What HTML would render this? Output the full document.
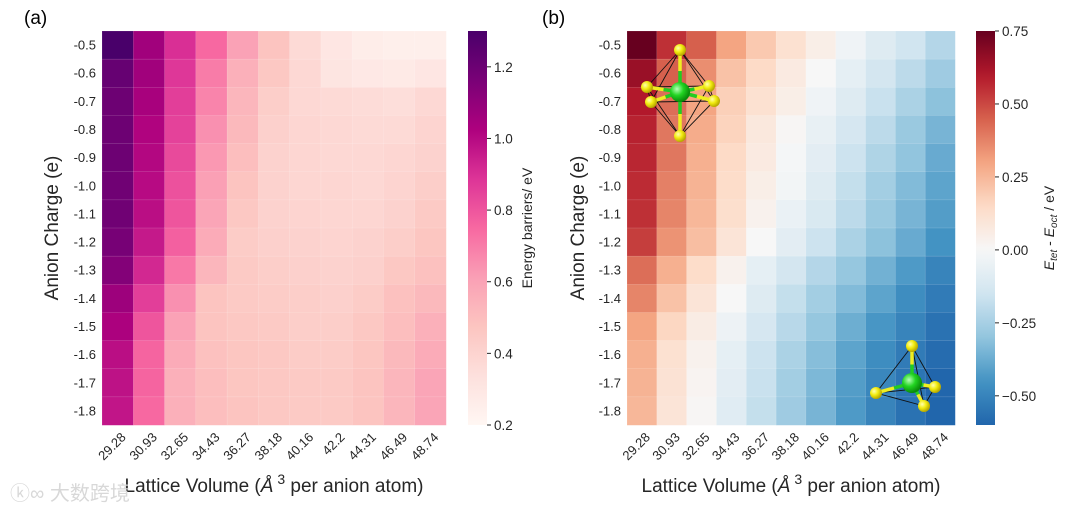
<!DOCTYPE html>
<html><head><meta charset="utf-8">
<style>
html,body{margin:0;padding:0;background:#fff;}
svg{display:block;font-family:"Liberation Sans",Arial,sans-serif;}
</style></head>
<body>
<svg id="fig" width="1080" height="515" viewBox="0 0 1080 515" xmlns="http://www.w3.org/2000/svg">
<defs>
<radialGradient id="gY" cx="35%" cy="35%" r="65%"><stop offset="0" stop-color="#ffffb0"/><stop offset="0.5" stop-color="#f2ec10"/><stop offset="1" stop-color="#b8a800"/></radialGradient>
<radialGradient id="gG" cx="35%" cy="35%" r="65%"><stop offset="0" stop-color="#b8ffb8"/><stop offset="0.5" stop-color="#22d422"/><stop offset="1" stop-color="#0a8a0a"/></radialGradient>
<linearGradient id="cbA" x1="0" y1="1" x2="0" y2="0"></linearGradient>
<linearGradient id="cbB" x1="0" y1="1" x2="0" y2="0"></linearGradient>
</defs>
<g id="panelA"></g>
<g id="panelB"></g>
<g id="mols"></g>
<text x="10" y="500" font-size="20" fill="#d8d8d8" font-family="'Liberation Sans','Noto Sans CJK SC',sans-serif">ⓚ∞ 大数跨境</text>
</svg>
<script>
const xCats = ["29.28","30.93","32.65","34.43","36.27","38.18","40.16","42.2","44.31","46.49","48.74"];
const yCats = ["-0.5","-0.6","-0.7","-0.8","-0.9","-1.0","-1.1","-1.2","-1.3","-1.4","-1.5","-1.6","-1.7","-1.8"];
const barrierValues = [
[1.30,1.06,0.90,0.75,0.60,0.48,0.37,0.30,0.26,0.25,0.25],
[1.22,1.06,0.88,0.70,0.55,0.46,0.38,0.31,0.29,0.28,0.30],
[1.20,1.04,0.86,0.68,0.53,0.43,0.38,0.37,0.36,0.35,0.38],
[1.20,1.02,0.85,0.65,0.52,0.42,0.39,0.38,0.37,0.37,0.40],
[1.20,1.01,0.83,0.63,0.50,0.41,0.39,0.38,0.38,0.39,0.41],
[1.19,1.00,0.81,0.61,0.48,0.41,0.39,0.39,0.38,0.40,0.43],
[1.19,0.99,0.80,0.59,0.46,0.41,0.40,0.39,0.39,0.41,0.45],
[1.17,0.96,0.77,0.57,0.44,0.42,0.41,0.40,0.41,0.43,0.47],
[1.14,0.92,0.71,0.53,0.45,0.43,0.42,0.41,0.42,0.46,0.49],
[1.07,0.86,0.65,0.48,0.45,0.44,0.43,0.42,0.44,0.49,0.52],
[1.03,0.80,0.60,0.48,0.46,0.45,0.43,0.43,0.46,0.50,0.55],
[0.99,0.76,0.57,0.49,0.47,0.46,0.44,0.44,0.47,0.52,0.57],
[0.98,0.76,0.55,0.50,0.47,0.46,0.45,0.45,0.48,0.53,0.59],
[0.97,0.75,0.55,0.50,0.48,0.46,0.45,0.45,0.48,0.53,0.59]];
const diffValues = [
[0.75,0.55,0.45,0.30,0.20,0.12,0.05,-0.03,-0.10,-0.15,-0.22],
[0.65,0.45,0.35,0.22,0.15,0.07,0.00,-0.07,-0.14,-0.20,-0.27],
[0.60,0.42,0.30,0.18,0.12,0.05,-0.03,-0.10,-0.17,-0.24,-0.31],
[0.58,0.40,0.28,0.17,0.08,0.01,-0.06,-0.13,-0.20,-0.28,-0.35],
[0.57,0.40,0.27,0.15,0.07,-0.01,-0.08,-0.16,-0.23,-0.30,-0.38],
[0.56,0.38,0.26,0.14,0.05,-0.02,-0.10,-0.18,-0.26,-0.33,-0.40],
[0.55,0.37,0.25,0.13,0.03,-0.05,-0.12,-0.20,-0.28,-0.35,-0.42],
[0.52,0.34,0.23,0.10,0.00,-0.08,-0.16,-0.24,-0.31,-0.38,-0.45],
[0.42,0.27,0.14,0.03,-0.07,-0.14,-0.22,-0.29,-0.36,-0.43,-0.50],
[0.37,0.22,0.10,0.00,-0.10,-0.18,-0.26,-0.33,-0.40,-0.47,-0.53],
[0.30,0.16,0.06,-0.04,-0.13,-0.21,-0.29,-0.37,-0.44,-0.50,-0.56],
[0.27,0.12,0.03,-0.07,-0.16,-0.24,-0.32,-0.40,-0.47,-0.53,-0.58],
[0.26,0.11,0.02,-0.08,-0.17,-0.26,-0.34,-0.42,-0.49,-0.55,-0.60],
[0.25,0.10,0.01,-0.09,-0.18,-0.27,-0.35,-0.43,-0.50,-0.56,-0.60]];
const ticksA = [0.2,0.4,0.6,0.8,1.0,1.2];
const tickLabelsA = ["0.2","0.4","0.6","0.8","1.0","1.2"];
const ticksB = [-0.5,-0.25,0,0.25,0.5,0.75];
const tickLabelsB = ["\u22120.50","\u22120.25","0.00","0.25","0.50","0.75"];

const NS="http://www.w3.org/2000/svg";
function mk(tag,attrs,parent,txt){const e=document.createElementNS(NS,tag);for(const k in attrs)e.setAttribute(k,attrs[k]);if(txt!==undefined)e.textContent=txt;parent.appendChild(e);return e;}
function hex(h){return [parseInt(h.slice(1,3),16),parseInt(h.slice(3,5),16),parseInt(h.slice(5,7),16)];}
function interp(stops,t){t=Math.max(0,Math.min(1,t));const n=stops.length-1;const p=t*n;const i=Math.min(n-1,Math.floor(p));const f=p-i;const a=hex(stops[i]),b=hex(stops[i+1]);return "rgb("+a.map((v,k)=>Math.round(v+(b[k]-v)*f)).join(",")+")";}
const RdPu=["#fff7f3","#fde0dd","#fcc5c0","#fa9fb5","#f768a1","#dd3497","#ae017e","#7a0177","#49006a"];
const RdBuR=["#053061","#2166ac","#4393c3","#92c5de","#d1e5f0","#f7f7f7","#fddbc7","#f4a582","#d6604d","#b2182b","#67001f"];
const vminA=0.2,vmaxA=1.3,vminB=-0.6,vmaxB=0.75;
function colA(v){return interp(RdPu,(v-vminA)/(vmaxA-vminA));}
function colB(v){return interp(RdBuR,(v+0.75)/1.5);}

function drawPanel(g,cfg){
  const nx=xCats.length,ny=yCats.length;
  const cw=(cfg.x1-cfg.x0)/nx,ch=(cfg.y1-cfg.y0)/ny;
  const xs=i=>cfg.x0+i*cw, ys=j=>cfg.y0+j*ch;
  const cells=mk('g',{},g);
  
  
  cfg.data.forEach((row,j)=>row.forEach((v,i)=>{
    const r=mk('rect',{x:xs(i),y:ys(j),width:cw+0.3,height:ch+0.3,fill:cfg.col(v),stroke:'rgba(255,255,255,0.25)','stroke-width':0.5},cells);
    
    
  }));
  yCats.forEach((c,j)=>{const t=mk('text',{x:cfg.x0-6,y:ys(j)+ch/2+4.5,'font-size':13,'text-anchor':'end',fill:'#262626'},g,c);
    
    });
  xCats.forEach((c,i)=>{const cx=xs(i)+cw/2+9,cy=438;const t=mk('text',{x:cx,y:cy,'font-size':13,'text-anchor':'end',fill:'#262626',transform:`rotate(-45 ${cx} ${cy})`},g,c);
    
    });
  const yt=mk('text',{x:cfg.ytx,y:228,'font-size':19,'text-anchor':'middle',fill:'#262626',transform:`rotate(-90 ${cfg.ytx} 228)`},g,'Anion Charge (e)');
  
  
  const xt=mk('text',{x:(cfg.x0+cfg.x1)/2,y:492,'font-size':19,'text-anchor':'middle',fill:'#262626'},g);
  
  
  xt.innerHTML='Lattice Volume (<tspan font-style="italic">Å</tspan><tspan dy="-8" font-size="14"> 3</tspan><tspan dy="8"> per anion atom)</tspan>';
  const pl=mk('text',{x:cfg.plx,y:24,'font-size':19,fill:'#000'},g,cfg.plabel);
  
  
  const cb=mk('g',{},g);
  
  
  const grad=document.getElementById(cfg.gid);
  for(let k=0;k<=40;k++){const v=cfg.vmin+(cfg.vmax-cfg.vmin)*k/40;mk('stop',{offset:k/40,'stop-color':cfg.col(v)},grad);}
  mk('rect',{x:cfg.cbx,y:cfg.y0,width:19,height:cfg.y1-cfg.y0,fill:`url(#${cfg.gid})`},cb);
  const cy=v=>cfg.y1-(v-cfg.vmin)/(cfg.vmax-cfg.vmin)*(cfg.y1-cfg.y0);
  cfg.ticks.forEach((v,k)=>{mk('line',{x1:cfg.cbx+19,x2:cfg.cbx+23,y1:cy(v),y2:cy(v),stroke:'#262626','stroke-width':1},cb);
    const t=mk('text',{x:cfg.cbx+26,y:cy(v)+5,'font-size':13.5,fill:'#262626'},cb,cfg.tlabels[k]);
    
    });
  const cl=mk('text',{x:cfg.clx,y:228,'font-size':14,'text-anchor':'middle',fill:'#262626',transform:`rotate(-90 ${cfg.clx} 228)`},cb);
  
  
  cl.innerHTML=cfg.clabel;
}
drawPanel(document.getElementById('panelA'),{x0:102,x1:446,y0:31,y1:425,data:barrierValues,col:colA,ytx:58,plx:24,plabel:'(a)',gid:'cbA',cbx:468,vmin:vminA,vmax:vmaxA,ticks:ticksA,tlabels:tickLabelsA,clx:532,clabel:'Energy barriers/ eV'});
drawPanel(document.getElementById('panelB'),{x0:627,x1:955,y0:31,y1:425,data:diffValues,col:colB,ytx:584,plx:542,plabel:'(b)',gid:'cbB',cbx:976,vmin:vminB,vmax:vmaxB,ticks:ticksB,tlabels:tickLabelsB,clx:1054,clabel:'<tspan font-style="italic">E</tspan><tspan font-style="italic" font-size="10" dy="3">tet</tspan><tspan dy="-3"> - </tspan><tspan font-style="italic">E</tspan><tspan font-style="italic" font-size="10" dy="3">oct</tspan><tspan dy="-3"> / eV</tspan>'});

const m=document.getElementById('mols');
function mol(c,verts,name,edges){
  const g=mk('g',{},m);
  
  
  edges.forEach(([a,b])=>mk('line',{x1:verts[a][0],y1:verts[a][1],x2:verts[b][0],y2:verts[b][1],stroke:'#111','stroke-width':0.9},g));
  verts.forEach(v=>{mk('line',{x1:c[0],y1:c[1],x2:(c[0]+v[0])/2,y2:(c[1]+v[1])/2,stroke:'#2c2','stroke-width':3.5},g);mk('line',{x1:(c[0]+v[0])/2,y1:(c[1]+v[1])/2,x2:v[0],y2:v[1],stroke:'#ee2','stroke-width':3.5},g);});
  mk('circle',{cx:c[0],cy:c[1],r:10,fill:'url(#gG)'},g);
  verts.forEach(v=>mk('circle',{cx:v[0],cy:v[1],r:6,fill:'url(#gY)'},g));
}
const oct=[[680,50],[647,87],[709,86],[651,102],[714,101],[680,136]];
const octE=[];for(let a=0;a<6;a++)for(let b=a+1;b<6;b++){if(!((a==0&&b==5)||(a==1&&b==4)||(a==2&&b==3)))octE.push([a,b]);}
mol([680,92],oct,'octahedral-inset',octE);
const tet=[[912,346],[876,393],[935,387],[924,406]];
const tetE=[[0,1],[0,2],[0,3],[1,2],[1,3],[2,3]];
mol([912,383],tet,'tetrahedral-inset',tetE);
</script>
</body></html>
